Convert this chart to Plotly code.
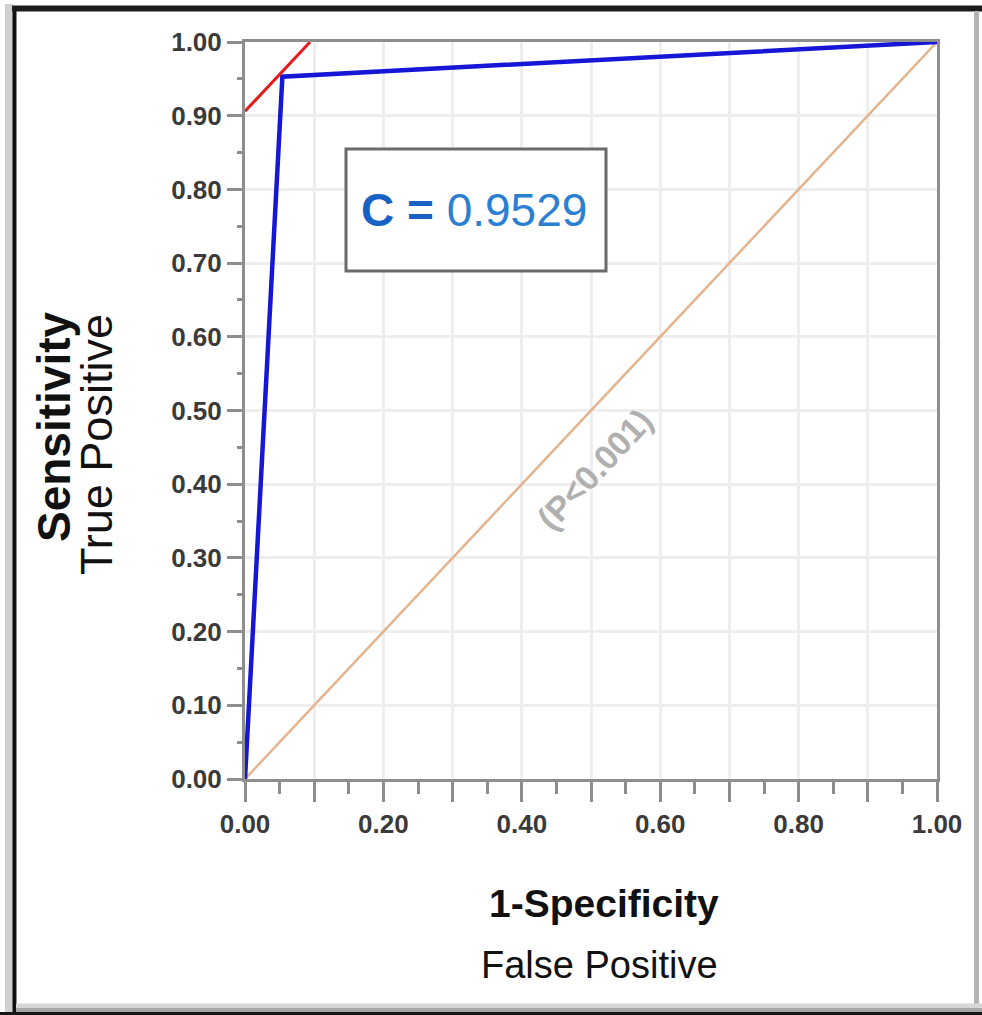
import plotly.graph_objects as go

# ---- data ----
roc_fpr = [0.0, 0.054, 1.0]
roc_tpr = [0.0, 0.953, 1.0]
tangent_fpr = [0.0, 0.094]
tangent_tpr = [0.906, 1.0]
chance_fpr = [0.0, 1.0]
chance_tpr = [0.0, 1.0]
tick_vals = [0.0, 0.1, 0.2, 0.3, 0.4, 0.5, 0.6, 0.7, 0.8, 0.9, 1.0]
y_tick_text = ["0.00", "0.10", "0.20", "0.30", "0.40", "0.50", "0.60", "0.70", "0.80", "0.90", "1.00"]
x_tick_text = ["0.00", "", "0.20", "", "0.40", "", "0.60", "", "0.80", "", "1.00"]
auc_prefix = "C ="
auc_value = "0.9529"
p_label = "(P<0.001)"

W, H = 982, 1015
L, R, T, B = 245, 45, 42, 236
PW, PH = W - L - R, H - T - B


def px(x):
    return (x - L) / PW


def py(y):
    return (H - B - y) / PH


fig = go.Figure()
fig.add_trace(go.Scatter(x=chance_fpr, y=chance_tpr, mode="lines",
                         line=dict(color="#e2b48f", width=2.5), cliponaxis=False,
                         showlegend=False, hoverinfo="skip"))
fig.add_trace(go.Scatter(x=roc_fpr, y=roc_tpr, mode="lines",
                         line=dict(color="#1616d6", width=4.5), cliponaxis=False,
                         showlegend=False))
fig.add_trace(go.Scatter(x=tangent_fpr, y=tangent_tpr, mode="lines",
                         line=dict(color="#e21c1c", width=3), cliponaxis=False,
                         showlegend=False, hoverinfo="skip"))

axis_common = dict(
    range=[0, 1], tickmode="array", tickvals=tick_vals,
    showline=True, linecolor="#8e8e8e", linewidth=3, mirror=True,
    showgrid=True, gridcolor="#eeeeee", gridwidth=3,
    zeroline=False, ticks="outside", tickcolor="#8e8e8e", tickwidth=3,
    tickfont=dict(family="Liberation Sans, Arial", size=26, color="#3a3a3a", weight="bold"),
)

fig.update_xaxes(**axis_common, ticktext=x_tick_text, ticklen=20,
                 minor=dict(dtick=0.05, ticks="outside", ticklen=12, tickwidth=3,
                            tickcolor="#8e8e8e", showgrid=False))
fig.update_yaxes(**axis_common, ticktext=y_tick_text, ticklen=15,
                 minor=dict(dtick=0.05, ticks="outside", ticklen=5, tickwidth=3,
                            tickcolor="#8e8e8e", showgrid=False))

shapes = []
# AUC box
shapes.append(dict(type="rect", xref="paper", yref="paper",
                   x0=px(346), x1=px(606), y0=py(271), y1=py(149),
                   line=dict(color="#6a6a6a", width=3), fillcolor="white", layer="above"))
# outer frame
shapes.append(dict(type="line", xref="paper", yref="paper", x0=px(9), x1=px(9), y0=py(4), y1=py(1015),
                   line=dict(color="#d0d0d0", width=8)))
shapes.append(dict(type="line", xref="paper", yref="paper", x0=px(14.5), x1=px(14.5), y0=py(6), y1=py(1012),
                   line=dict(color="#111111", width=4)))
shapes.append(dict(type="line", xref="paper", yref="paper", x0=px(12), x1=px(982), y0=py(8.5), y1=py(8.5),
                   line=dict(color="#1c1c1c", width=6)))
shapes.append(dict(type="line", xref="paper", yref="paper", x0=px(976.5), x1=px(976.5), y0=py(11), y1=py(1004),
                   line=dict(color="#b4b4b4", width=5)))
shapes.append(dict(type="line", xref="paper", yref="paper", x0=px(16), x1=px(982), y0=py(1006), y1=py(1006),
                   line=dict(color="#d6d6d6", width=5)))
shapes.append(dict(type="line", xref="paper", yref="paper", x0=px(16), x1=px(982), y0=py(1010), y1=py(1010),
                   line=dict(color="#a8a8a8", width=4)))
shapes.append(dict(type="line", xref="paper", yref="paper", x0=px(0), x1=px(982), y0=py(1013.5), y1=py(1013.5),
                   line=dict(color="#161616", width=3)))

annotations = [
    dict(xref="paper", yref="paper", x=px(474), y=py(210),
         text="<span style='color:#1762c4'><b>" + auc_prefix + "</b></span> " + auc_value,
         showarrow=False, font=dict(family="Liberation Sans, Arial", size=46, color="#2a7fd2"),
         xanchor="center", yanchor="middle"),
    dict(x=0.506, y=0.42, xref="x", yref="y", text="<b>" + p_label + "</b>", textangle=-47, showarrow=False,
         font=dict(family="Liberation Sans, Arial", size=34, color="#b0b0b0"),
         xanchor="center", yanchor="middle"),
    dict(xref="paper", yref="paper", x=px(54), y=py(427), text="<b>Sensitivity</b>", textangle=-90,
         showarrow=False, font=dict(family="Liberation Sans, Arial", size=46, color="#111111"),
         xanchor="center", yanchor="middle"),
    dict(xref="paper", yref="paper", x=px(96), y=py(445), text="True Positive", textangle=-90,
         showarrow=False, font=dict(family="Liberation Sans, Arial", size=45, color="#111111"),
         xanchor="center", yanchor="middle"),
    dict(xref="paper", yref="paper", x=px(604), y=py(903), text="<b>1-Specificity</b>",
         showarrow=False, font=dict(family="Liberation Sans, Arial", size=39, color="#111111"),
         xanchor="center", yanchor="middle"),
    dict(xref="paper", yref="paper", x=px(599), y=py(965), text="False Positive",
         showarrow=False, font=dict(family="Liberation Sans, Arial", size=38, color="#111111"),
         xanchor="center", yanchor="middle"),
]

fig.update_layout(
    width=W, height=H, margin=dict(l=L, r=R, t=T, b=B, autoexpand=False),
    paper_bgcolor="white", plot_bgcolor="white",
    shapes=shapes, annotations=annotations, showlegend=False,
)

fig.write_html("out.html")
